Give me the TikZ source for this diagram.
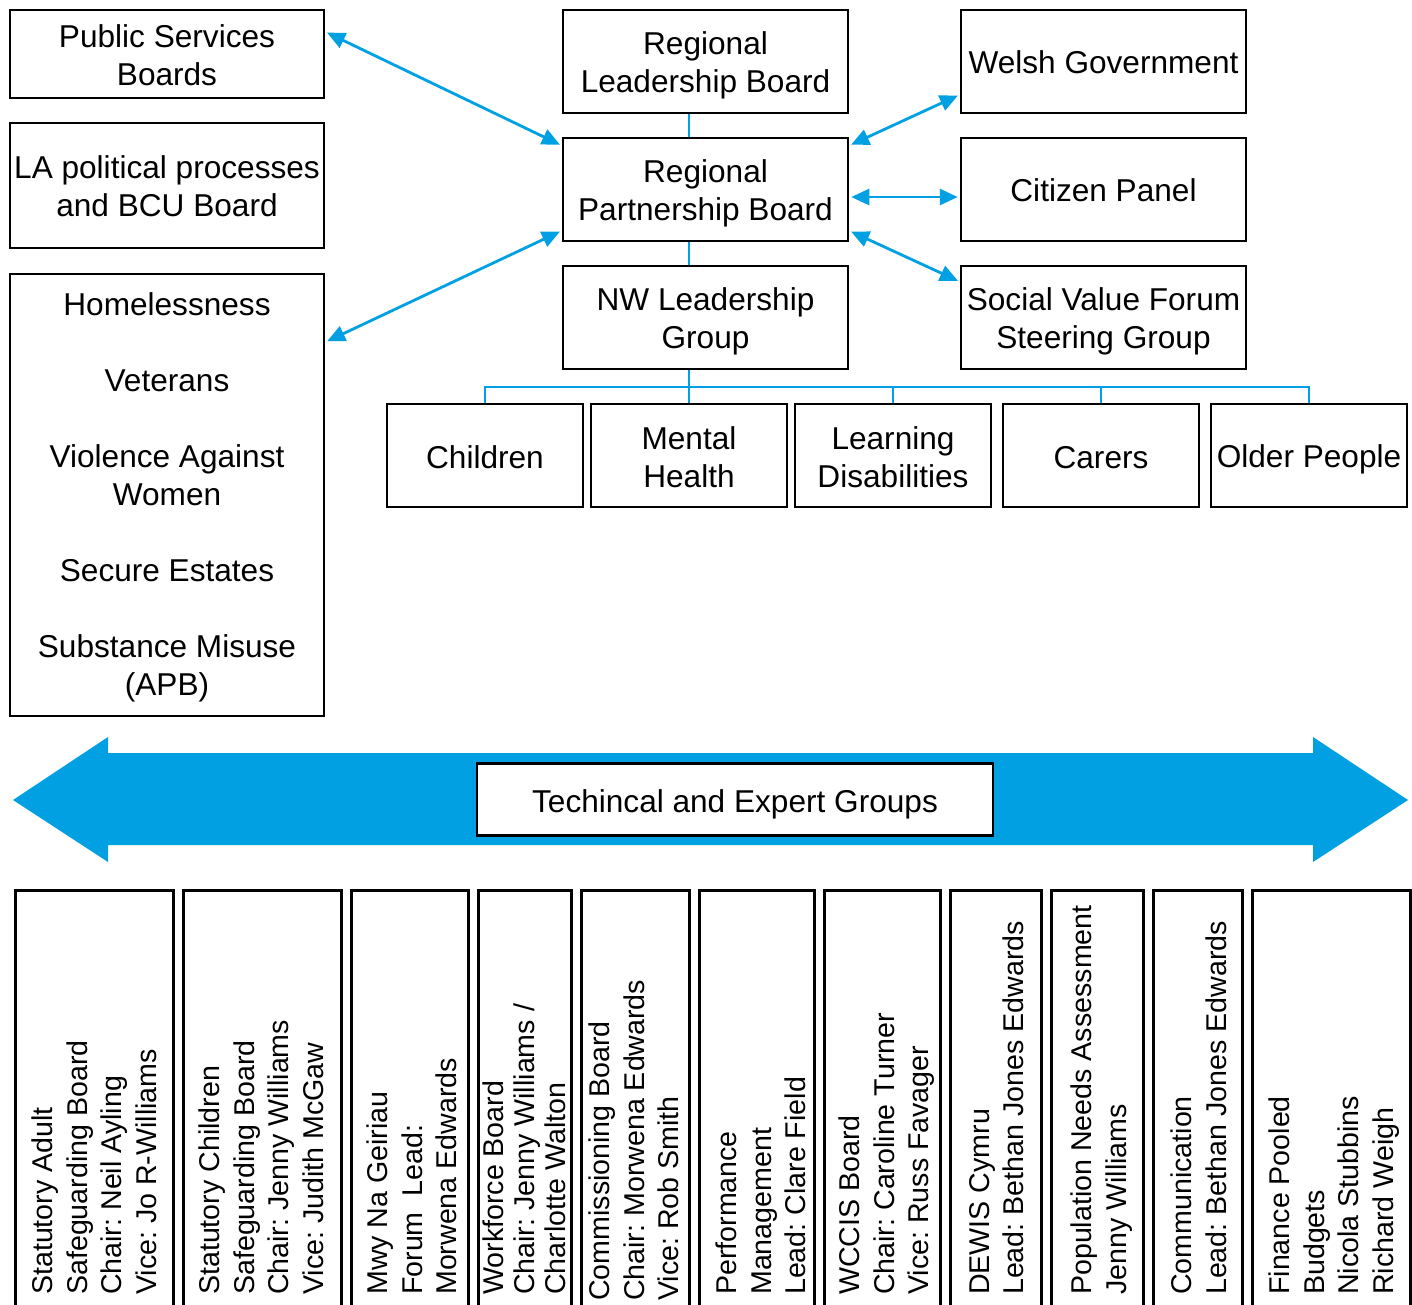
\documentclass[tikz,border=0pt]{standalone}
\usepackage{fontspec}
\setmainfont{Liberation Sans}
\usetikzlibrary{arrows.meta}
\definecolor{rpbblue}{RGB}{0,160,227}
\newcommand{\boardfont}{\fontsize{31.6}{38}\selectfont}
\newcommand{\groupfont}{\fontsize{28.6}{34.4}\selectfont}
\frenchspacing
\tikzset{
  board/.style={draw=black, line width=2.5pt, inner sep=0pt, minimum width=285pt, minimum height=103pt},
  boardtext/.style={font=\boardfont, align=center, inner sep=0pt, yshift=-4pt},
  sidebox/.style={board, minimum width=314pt},
  theme/.style={board, minimum width=196pt},
  link/.style={draw=rpbblue, line width=2.8pt},
  both/.style={link, {Triangle[length=18pt,width=16pt]}-{Triangle[length=18pt,width=16pt]}, shorten <=2pt, shorten >=2pt},
  groupbox/.style={draw=black, line width=2.5pt, anchor=north west, minimum height=440pt, inner sep=0pt},
  grouptext/.style={rotate=90, anchor=north west, inner sep=0pt, align=left, font=\groupfont},
}
\begin{document}
\begin{tikzpicture}[x=1pt, y=-1pt]
\useasboundingbox (0,0) rectangle (1412,1305);
% left column
\node[sidebox, minimum height=88pt, label={[boardtext, yshift=3pt]center:Public Services\\Boards}] (psb) at (167,54) {};
\node[sidebox, minimum height=125pt, label={[boardtext, yshift=3pt]center:LA political processes\\and BCU Board}] (la) at (167,185.5) {};
\node[sidebox, minimum height=442pt, label={[boardtext, yshift=2pt]center:Homelessness\\[38pt]Veterans\\[38pt]Violence Against\\Women\\[38pt]Secure Estates\\[38pt]Substance Misuse\\(APB)}] (home) at (167,495) {};
% centre column
\node[board, label={[boardtext]center:Regional\\Leadership Board}] (rlb) at (705.5,61.5) {};
\node[board, label={[boardtext]center:Regional\\Partnership Board}] (rpb) at (705.5,189.5) {};
\node[board, label={[boardtext]center:NW Leadership\\Group}] (nwlg) at (705.5,317.5) {};
% right column
\node[board, label={[boardtext, yshift=3pt]center:Welsh Government}] (wg) at (1103.5,61.5) {};
\node[board, label={[boardtext, yshift=3pt]center:Citizen Panel}] (cp) at (1103.5,189.5) {};
\node[board, label={[boardtext]center:Social Value Forum\\Steering Group}] (svf) at (1103.5,317.5) {};
% themes
\node[theme, label={[boardtext, yshift=2pt]center:Children}] (children) at (485,455.5) {};
\node[theme, label={[boardtext, yshift=2pt]center:Mental\\Health}] (mh) at (689,455.5) {};
\node[theme, label={[boardtext, yshift=2pt]center:Learning\\Disabilities}] (ld) at (893,455.5) {};
\node[theme, label={[boardtext, yshift=2pt]center:Carers}] (carers) at (1101,455.5) {};
\node[theme, label={[boardtext]center:Older People}] (older) at (1309,455.5) {};
\coordinate (bus) at (0,387);
\draw [link] (rlb.south -| mh.north) -- (rpb.north -| mh.north);
\draw [link] (rpb.south -| mh.north) -- (nwlg.north -| mh.north);
\draw [link] (nwlg.south -| mh.north) -- (mh.north);
\draw [link] (children.north) -- (children.north |- bus) -- (older.north |- bus) -- (older.north);
\draw [link] (ld.north |- bus) -- (ld.north);
\draw [link] (carers.north |- bus) -- (carers.north);
\draw [both] (psb.8) -- (rpb.163);
\draw [both] (home.44) -- (rpb.196);
\draw [both] (rpb.17) -- (wg.193);
\draw [both] (rpb.-3) -- (cp.183);
\draw [both] (rpb.-16) -- (svf.166);
% technical and expert groups
\fill[rpbblue] (13,800) -- (108,737) -- (108,753) -- (1313,753) -- (1313,737) -- (1408,800) -- (1313,862) -- (1313,845) -- (108,845) -- (108,862) -- cycle;
\node[board, fill=white, minimum width=516pt, minimum height=72pt, label={[boardtext, yshift=-1pt]center:Techincal and Expert Groups}] (teg) at (735,799.5) {};
\node[groupbox, minimum width=158pt] (sab) at (14,889) {};
\node[groupbox, minimum width=158pt] (scb) at (182,889) {};
\node[groupbox, minimum width=117pt] (mng) at (350,889) {};
\node[groupbox, minimum width=93pt] (wfb) at (477,889) {};
\node[groupbox, minimum width=108pt] (cob) at (580,889) {};
\node[groupbox, minimum width=115pt] (pm) at (698,889) {};
\node[groupbox, minimum width=116pt] (wccis) at (823,889) {};
\node[groupbox, minimum width=91pt] (dewis) at (949,889) {};
\node[groupbox, minimum width=92pt] (pna) at (1050,889) {};
\node[groupbox, minimum width=89pt] (comms) at (1152,889) {};
\node[groupbox, minimum width=158pt] (fin) at (1251,889) {};
\node[grouptext] (sabt) at (32,1295) {Statutory Adult\\Safeguarding Board\\Chair: Neil Ayling\\Vice: Jo R-Williams};
\node[grouptext] (scbt) at (199,1295) {Statutory Children\\Safeguarding Board\\Chair: Jenny Williams\\Vice: Judith McGaw};
\node[grouptext] (mngt) at (367,1295) {Mwy Na Geiriau\\Forum~ Lead:\\Morwena Edwards};
\node[grouptext, font={\fontsize{28.6}{31}\selectfont}] (wfbt) at (483,1295) {Workforce Board\\Chair: Jenny Williams /\\Charlotte Walton};
\node[grouptext] (cobt) at (589,1301) {Commissioning Board\\Chair: Morwena Edwards\\Vice: Rob Smith};
\node[grouptext] (pmt) at (716,1295) {Performance\\Management\\Lead: Clare Field};
\node[grouptext] (wccist) at (839,1295) {WCCIS Board\\Chair: Caroline Turner\\Vice: Russ Favager};
\node[grouptext] (dewist) at (969,1295) {DEWIS Cymru\\Lead: Bethan Jones Edwards};
\node[grouptext] (pnat) at (1071,1295) {Population Needs Assessment\\Jenny Williams};
\node[grouptext] (commst) at (1171,1295) {Communication\\Lead: Bethan Jones Edwards};
\node[grouptext] (fint) at (1269,1295) {Finance Pooled\\Budgets\\Nicola Stubbins\\Richard Weigh};
\end{tikzpicture}
\end{document}
